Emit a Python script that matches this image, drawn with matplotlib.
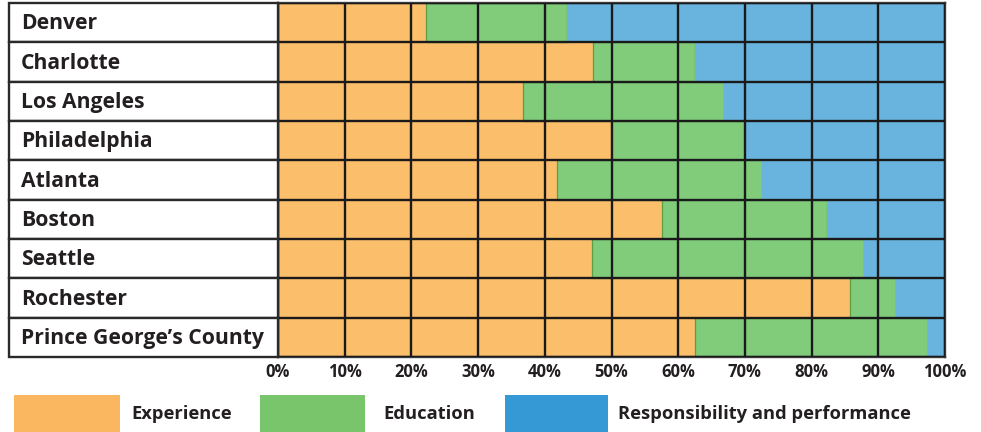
import numpy as np
import matplotlib.pyplot as plt
from matplotlib.patches import Rectangle

plt.rcParams['font.family'] = ['Open Sans', 'DejaVu Sans']

cities = ['Denver', 'Charlotte', 'Los Angeles', 'Philadelphia', 'Atlanta',
          'Boston', 'Seattle', 'Rochester', 'Prince George\u2019s County']
experience = [22.2, 47.2, 36.7, 49.9, 41.9, 57.5, 47.1, 85.8, 62.5]
education = [21.1, 15.3, 30.2, 20.1, 30.7, 24.8, 40.8, 6.9, 35.0]
responsibility = [56.7, 37.5, 33.1, 30.0, 27.4, 17.7, 12.1, 7.3, 2.5]
series_names = ['Experience', 'Education', 'Responsibility and performance']
ticks = np.arange(0, 101, 10)

bar_colors = ['#FBBE6A', '#80CC7B', '#68B4DF']
legend_colors = ['#FBB660', '#79C56B', '#3599D5']
ink = '#231f20'

W, H = 981, 432
fig = plt.figure(figsize=(W / 100, H / 100), dpi=100, facecolor='white')

# main bar area
x0, x1, ytop, ybot = 278, 945, 3, 357
ax = fig.add_axes([x0 / W, (H - ybot) / H, (x1 - x0) / W, (ybot - ytop) / H])
n = len(cities)
y = np.arange(n)
exp = np.array(experience)
edu = np.array(education)
res = np.array(responsibility)
ax.barh(y, exp, height=1, color=bar_colors[0], edgecolor='none')
ax.barh(y, edu, left=exp, height=1, color=bar_colors[1], edgecolor='#5b9e45', linewidth=0.9)
ax.barh(y, res, left=exp + edu, height=1, color=bar_colors[2], edgecolor='none')
ax.set_xlim(0, 100)
ax.set_ylim(n - 0.5, -0.5)
for t in ticks:
    ax.axvline(t, color='#1a1a1a', lw=1.7, zorder=3)
for r in range(n + 1):
    ax.axhline(r - 0.5, color='#1a1a1a', lw=1.7, zorder=3)
for s in ax.spines.values():
    s.set_color('#3a3a3a')
    s.set_linewidth(1.7)
ax.set_yticks([])
ax.set_xticks(ticks)
ax.set_xticklabels([f'{t}%' for t in ticks], fontsize=12, fontweight='bold', color=ink)
ax.tick_params(axis='x', length=0, pad=4)

# label column
lx0 = 9
lax = fig.add_axes([lx0 / W, (H - ybot) / H, (x0 - lx0) / W, (ybot - ytop) / H])
lax.set_xlim(0, 1)
lax.set_ylim(n - 0.5, -0.5)
lax.axis('off')
for i, c in enumerate(cities):
    lax.add_patch(Rectangle((0, i - 0.5), 1, 1, facecolor='white',
                            edgecolor='#2a2a2a', lw=1.7, clip_on=False))
    lax.text(12 / (x0 - lx0), i + 0.03, c, ha='left', va='center',
             fontsize=15.2, fontweight='bold', color=ink)

# legend
leg = [(14, 120, 131), (260, 365, 383), (505, 608, 618)]
for (px0, px1, tx), col, name in zip(leg, legend_colors, series_names):
    fig.patches.append(Rectangle((px0 / W, 0), (px1 - px0) / W, (432 - 395) / H,
                                 transform=fig.transFigure, facecolor=col,
                                 edgecolor='none'))
    fig.text(tx / W, (H - 414) / H, name, ha='left', va='center',
             fontsize=13.2, fontweight='bold', color=ink)

fig.savefig('out.png', dpi=100, facecolor='white')
